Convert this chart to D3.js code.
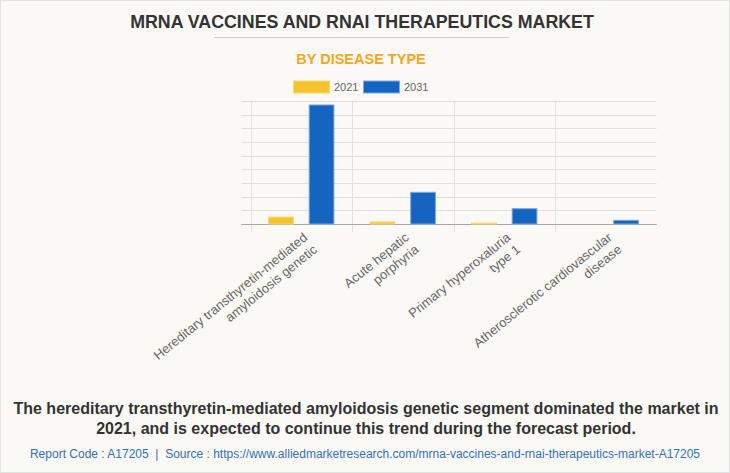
<!DOCTYPE html>
<html>
<head>
<meta charset="utf-8">
<script src="https://cdn.jsdelivr.net/npm/d3@7"></script>
<style>
  html, body { margin: 0; padding: 0; background: #faf9f5; }
  svg { display: block; font-family: "Liberation Sans", Arial, sans-serif; }
</style>
</head>
<body>
<svg id="chart" width="730" height="473"></svg>
<script>
// ---- data ----
const categories = [
  ["Hereditary transthyretin-mediated", "amyloidosis genetic"],
  ["Acute hepatic", "porphyria"],
  ["Primary hyperoxaluria", "type 1"],
  ["Atherosclerotic cardiovascular", "disease"]
];
const seriesNames = ["2021", "2031"];
const values2021 = [0.51, 0.15, 0.07, 0.0];
const values2031 = [8.71, 2.32, 1.12, 0.27];
const yTicks = [0, 1, 2, 3, 4, 5, 6, 7, 8, 9];
const colors = ["#f5c42c", "#1565c0"];
const strokeColors = ["#f8d970", "#7fa9dd"];

const title = "MRNA VACCINES AND RNAI THERAPEUTICS MARKET";
const subtitle = "BY DISEASE TYPE";
const note1 = "The hereditary transthyretin-mediated amyloidosis genetic segment dominated the market in";
const note2 = "2021, and is expected to continue this trend during the forecast period.";
const source = "Report Code : A17205  |  Source : https://www.alliedmarketresearch.com/mrna-vaccines-and-rnai-therapeutics-market-A17205";

const svg = d3.select("#chart");
const W = 730, H = 473;

svg.append("rect").attr("x", 0.5).attr("y", 0.5).attr("width", W - 1).attr("height", H - 1)
  .attr("fill", "#faf9f5").attr("stroke", "#e2e2e2");

// titles
svg.append("text").attr("x", 362).attr("y", 27.5).attr("text-anchor", "middle")
  .attr("font-size", 17.8).attr("font-weight", "bold").attr("fill", "#333")
  .text(title);
svg.append("line").attr("x1", 214).attr("x2", 509).attr("y1", 37.5).attr("y2", 37.5)
  .attr("stroke", "#cfcfcf").attr("stroke-width", 1);
svg.append("text").attr("x", 361).attr("y", 64).attr("text-anchor", "middle")
  .attr("font-size", 14.5).attr("font-weight", "bold").attr("fill", "#f5a623")
  .text(subtitle);

// legend
const legend = svg.append("g");
const legX = [293, 363];
seriesNames.forEach((s, i) => {
  legend.append("rect").attr("x", legX[i] + 0.5).attr("y", 81).attr("width", 36).attr("height", 12)
    .attr("fill", colors[i]).attr("stroke", strokeColors[i]).attr("stroke-width", 1);
  legend.append("text").attr("x", legX[i] + 41).attr("y", 91).attr("font-size", 11)
    .attr("fill", "#666").text(s);
});

// plot
const plot = { left: 250.5, right: 656.5, top: 101, bottom: 224 };
const x = d3.scaleBand().domain(d3.range(categories.length)).range([plot.left, plot.right]).padding(0);
const xi = d3.scaleBand().domain(seriesNames).range([0.1 * x.bandwidth(), 0.9 * x.bandwidth()]).padding(0);
const y = d3.scaleLinear().domain([0, 9]).range([plot.bottom, plot.top]);

const grid = svg.append("g");
yTicks.forEach(t => {
  grid.append("line").attr("x1", plot.left - 9).attr("x2", plot.right)
    .attr("y1", Math.round(y(t)) + 0.5).attr("y2", Math.round(y(t)) + 0.5)
    .attr("stroke", t === 0 ? "#a8a8a8" : "#e0dfdb").attr("stroke-width", 1);
});
d3.range(categories.length).forEach(i => {
  const gx = Math.round(x(i)) + 0.5;
  grid.append("line").attr("x1", gx).attr("x2", gx)
    .attr("y1", plot.top).attr("y2", plot.bottom + 8)
    .attr("stroke", "#e0dfdb").attr("stroke-width", 1);
});
svg.append("line").attr("x1", plot.left - 9).attr("x2", plot.right)
  .attr("y1", plot.bottom + 0.5).attr("y2", plot.bottom + 0.5).attr("stroke", "#a8a8a8");

// bars
const seriesData = [values2021, values2031];
seriesData.forEach((vals, si) => {
  const bw = xi.bandwidth() * 0.61;
  svg.append("g").selectAll("rect").data(vals).join("rect")
    .attr("x", (d, i) => x(i) + xi(seriesNames[si]) + (xi.bandwidth() - bw) / 2)
    .attr("y", d => y(d))
    .attr("width", bw)
    .attr("height", d => Math.max(0, y(0) - y(d)))
    .attr("fill", colors[si])
    .attr("stroke", d => d > 0 ? strokeColors[si] : "none")
    .attr("stroke-width", 1);
});

// x labels rotated
categories.forEach((lines, i) => {
  const cx = x(i) + x.bandwidth() / 2;
  const t = svg.append("text")
    .attr("transform", `translate(${cx + 7},${plot.bottom + 15}) rotate(-39)`)
    .attr("text-anchor", "end").attr("font-size", 13).attr("fill", "#666");
  lines.forEach((ln, k) => {
    t.append("tspan").attr("x", 0).attr("dy", k === 0 ? 0 : 15.5).text(ln);
  });
});

// notes
svg.append("text").attr("x", 366).attr("y", 414).attr("text-anchor", "middle")
  .attr("font-size", 16).attr("font-weight", "bold").attr("fill", "#333").text(note1);
svg.append("text").attr("x", 366).attr("y", 434).attr("text-anchor", "middle")
  .attr("font-size", 16).attr("font-weight", "bold").attr("fill", "#333").text(note2);
svg.append("text").attr("x", 365).attr("y", 458).attr("text-anchor", "middle")
  .attr("font-size", 12).attr("fill", "#3570b8").attr("xml:space", "preserve").text(source);
</script>
</body>
</html>
